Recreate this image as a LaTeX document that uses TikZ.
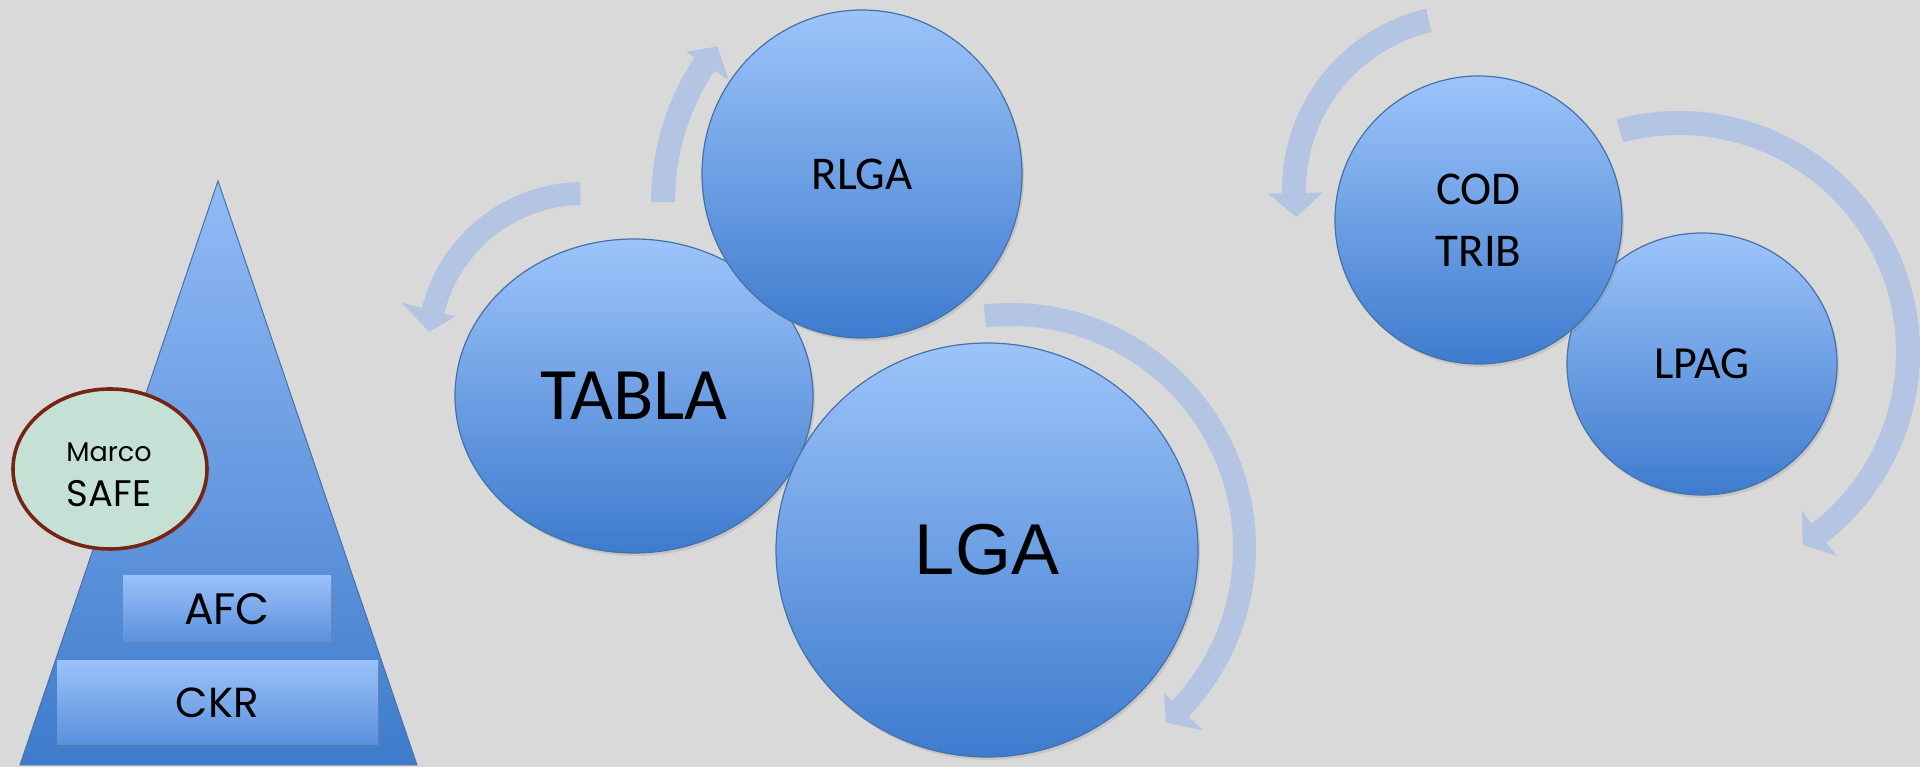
\documentclass[tikz,border=0pt]{standalone}
\usepackage{fontspec}
\usetikzlibrary{shapes.geometric,shadows,calc}
\newfontfamily\calib{Carlito}
\newfontfamily\arialf{Liberation Sans}
\newfontfamily\gothic{Poppins}
\definecolor{bg}{HTML}{D9D9D9}
\definecolor{bandc}{HTML}{B3C5E3}
\definecolor{ctop}{HTML}{9DC4FA}
\definecolor{cbot}{HTML}{3E7BCE}
\definecolor{cedge}{HTML}{4472A8}
\definecolor{ttop}{HTML}{92BAF7}
\definecolor{tbot}{HTML}{3E7BCB}
\definecolor{btop}{HTML}{9AC1FA}
\definecolor{bbot}{HTML}{5A90DC}
\definecolor{mfill}{HTML}{C5E1D6}
\definecolor{medge}{HTML}{762515}
\tikzset{
  bubble/.style={ellipse, draw=cedge, line width=1.2pt, top color=ctop, bottom color=cbot,
    inner sep=0pt, drop shadow={opacity=0.22, shadow xshift=2pt, shadow yshift=-3pt}},
  band/.style={fill=bandc},
  layerbox/.style={rectangle, inner sep=0pt, top color=btop, bottom color=bbot,
    drop shadow={opacity=0.25, shadow xshift=2pt, shadow yshift=-2pt}},
  lbl/.style={text=black, inner sep=0pt},
}
% #1 cx, #2 cy, #3 r inner, #4 r outer, #5 start angle, #6 end angle, #7 wing in, #8 wing out, #9 tip angle
\newcommand{\cArrow}[9]{%
  \pgfmathsetmacro\rmid{(#3+#4)/2}%
  \fill[band] ([shift={(#1,#2)}]#5:#4) arc[start angle=#5, end angle=#6, radius=#4]
    -- ([shift={(#1,#2)}]#6:#8) -- ([shift={(#1,#2)}]#9:\rmid) -- ([shift={(#1,#2)}]#6:#7)
    -- ([shift={(#1,#2)}]#6:#3) arc[start angle=#6, end angle=#5, radius=#3] -- cycle;}
\begin{document}
\begin{tikzpicture}[x=1pt,y=1pt]
\useasboundingbox (0,0) rectangle (1920,767);
\fill[bg] (0,0) rectangle (1920,767);

% ---------- pyramid ----------
\coordinate (tA) at (218,586);
\coordinate (tL) at (20,2);
\coordinate (tR) at (417,2);
\draw[draw=cedge, line width=1pt, top color=ttop, bottom color=tbot] (tA) -- (tL) -- (tR) -- cycle;
\node[ellipse, draw=medge, line width=3.6pt, fill=mfill, minimum width=194pt, minimum height=160pt,
  drop shadow={opacity=0.2, shadow xshift=2pt, shadow yshift=-2pt}] (safe) at (110,298) {};
\node[lbl, anchor=base, font=\gothic\fontsize{27}{30}\selectfont] (marco) at (109,305) {Marco};
\node[lbl, anchor=base, font=\gothic\fontsize{37}{40}\selectfont] (safet) at (109,260) {SAFE};
\node[layerbox, minimum width=208pt, minimum height=66pt, font=\gothic\fontsize{44}{48}\selectfont] (afc) at (227,158) {AFC};
\node[layerbox, minimum width=321pt, minimum height=84pt, font=\gothic\fontsize{42}{46}\selectfont] (ckr) at (217.5,64) {CKR};

% ---------- circular arrows ----------
\cArrow{583}{419}{143}{166}{91}{166}{131}{187}{174}
\cArrow{913}{565}{238}{262}{180}{146.5}{221}{272}{141.5}
\cArrow{1011}{219}{222}{245}{96.4}{-43.5}{211}{265}{-48.4}
\cArrow{1468}{577}{162}{186}{103}{181}{145}{200}{189}
\cArrow{1679}{415}{217}{241}{105}{-52.3}{201}{258}{-57.3}

% ---------- middle cluster ----------
\node[bubble, minimum width=358pt, minimum height=314pt, font=\calib\fontsize{74}{80}\selectfont] (tabla) at (634,371) {TABLA};
\node[bubble, minimum width=320pt, minimum height=328pt, font=\calib\fontsize{47}{52}\selectfont] (rlga) at (862,593) {RLGA};
\node[bubble, minimum width=422pt, minimum height=414pt, font=\arialf\fontsize{72}{80}\selectfont] (lga) at (987,217) {LGA};

% ---------- right cluster ----------
\node[bubble, minimum width=270pt, minimum height=262pt, font=\calib\fontsize{46}{52}\selectfont] (lpag) at (1702,403) {LPAG};
\node[bubble, minimum width=287pt, minimum height=288pt, align=center, font=\calib\fontsize{47}{62}\selectfont] (cod) at (1478.5,547) {COD\\TRIB};
\end{tikzpicture}
\end{document}
